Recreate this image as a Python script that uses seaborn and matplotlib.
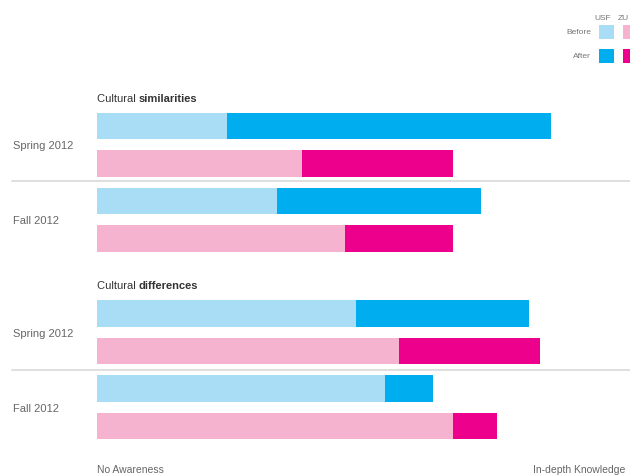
import matplotlib
matplotlib.use("Agg")
import matplotlib.pyplot as plt
import seaborn as sns
import pandas as pd
from matplotlib.patches import Rectangle

# ---- data ----
rows = ["Sim Spring USF", "Sim Spring ZU", "Sim Fall USF", "Sim Fall ZU",
        "Diff Spring USF", "Diff Spring ZU", "Diff Fall USF", "Diff Fall ZU"]
university = ["USF", "ZU", "USF", "ZU", "USF", "ZU", "USF", "ZU"]
slot = [0, 1, 2, 3, 5, 6, 7, 8]
before = [24.3, 38.4, 33.7, 46.5, 48.6, 56.7, 54.0, 66.8]
after = [85.1, 66.8, 72.0, 66.8, 81.1, 83.1, 63.0, 75.0]
term_labels = ["Spring 2012", "Fall 2012", "Spring 2012", "Fall 2012"]
section_titles = [("Cultural ", "similarities"), ("Cultural ", "differences")]

before_colors = {"USF": "#a9ddf6", "ZU": "#f5b3cf"}
after_colors = {"USF": "#00aeef", "ZU": "#ec008c"}

df = pd.DataFrame({"row": rows, "uni": university, "pos": slot,
                   "before": before, "after": after})

sns.set_theme(style="white")
plt.rcParams["font.family"] = ["Liberation Sans", "DejaVu Sans"]

W, H = 630, 477
fig = plt.figure(figsize=(W / 100, H / 100), dpi=100)
x0_px, x1_px = 97, 630
ax = fig.add_axes([x0_px / W, 0, (x1_px - x0_px) / W, 1])

sns.barplot(data=df, x="after", y="pos", hue="uni", palette=after_colors,
            orient="h", native_scale=True, dodge=False, width=0.71,
            linewidth=0, saturation=1, legend=False, ax=ax)
sns.barplot(data=df, x="before", y="pos", hue="uni", palette=before_colors,
            orient="h", native_scale=True, dodge=False, width=0.71,
            linewidth=0, saturation=1, legend=False, ax=ax)

row_px0, slot_px = 127.0, 37.5
ax.set_xlim(0, 100)
ax.set_ylim((H - row_px0) / slot_px, -row_px0 / slot_px)
ax.axis("off")

# separators
for yv in [1.47, 6.5]:
    ax.axhline(yv, xmin=(12 - x0_px) / (x1_px - x0_px), xmax=1.2,
               color="#dcdcdc", lw=1.3, clip_on=False)

# term labels
for lab, yv in zip(term_labels, [0.5, 2.5, 5.5, 7.5]):
    fig.text(13 / W, 1 - (row_px0 + yv * slot_px + 0.5) / H, lab,
             fontsize=8, color="#666666", va="center", ha="left")

# section titles
for (a, b), ypx in zip(section_titles, [99, 286]):
    t = fig.text(97 / W, 1 - ypx / H, a, fontsize=8, color="#333333",
                 va="center", ha="left")
    ax.annotate(b, xy=(1, 0), xycoords=t, va="bottom", ha="left",
                fontsize=8, color="#333333", weight="bold",
                annotation_clip=False)

# axis end labels
fig.text(97 / W, 1 - 470 / H, "No Awareness", fontsize=7.5,
         color="#666666", va="center", ha="left")
fig.text(533 / W, 1 - 470 / H, "In-depth Knowledge", fontsize=7.5,
         color="#666666", va="center", ha="left")

# legend
fig.text(594 / W, 1 - 18 / H, "USF", fontsize=6, color="#777777",
         va="center", ha="left")
fig.text(618 / W, 1 - 18 / H, "ZU", fontsize=6, color="#777777",
         va="center", ha="left")
for lab, ytop, cmap in [("Before", 26, before_colors), ("After", 50, after_colors)]:
    fig.text(591 / W, 1 - (ytop + 7) / H, lab, fontsize=6, color="#777777",
             va="center", ha="right")
    for uni, xl in [("USF", 599), ("ZU", 623)]:
        fig.patches.append(Rectangle((xl / W, 1 - (ytop + 13.5) / H),
                                     15 / W, 13.5 / H, transform=fig.transFigure,
                                     facecolor=cmap[uni], edgecolor="none"))

fig.savefig("out.png", dpi=100, facecolor="white")
